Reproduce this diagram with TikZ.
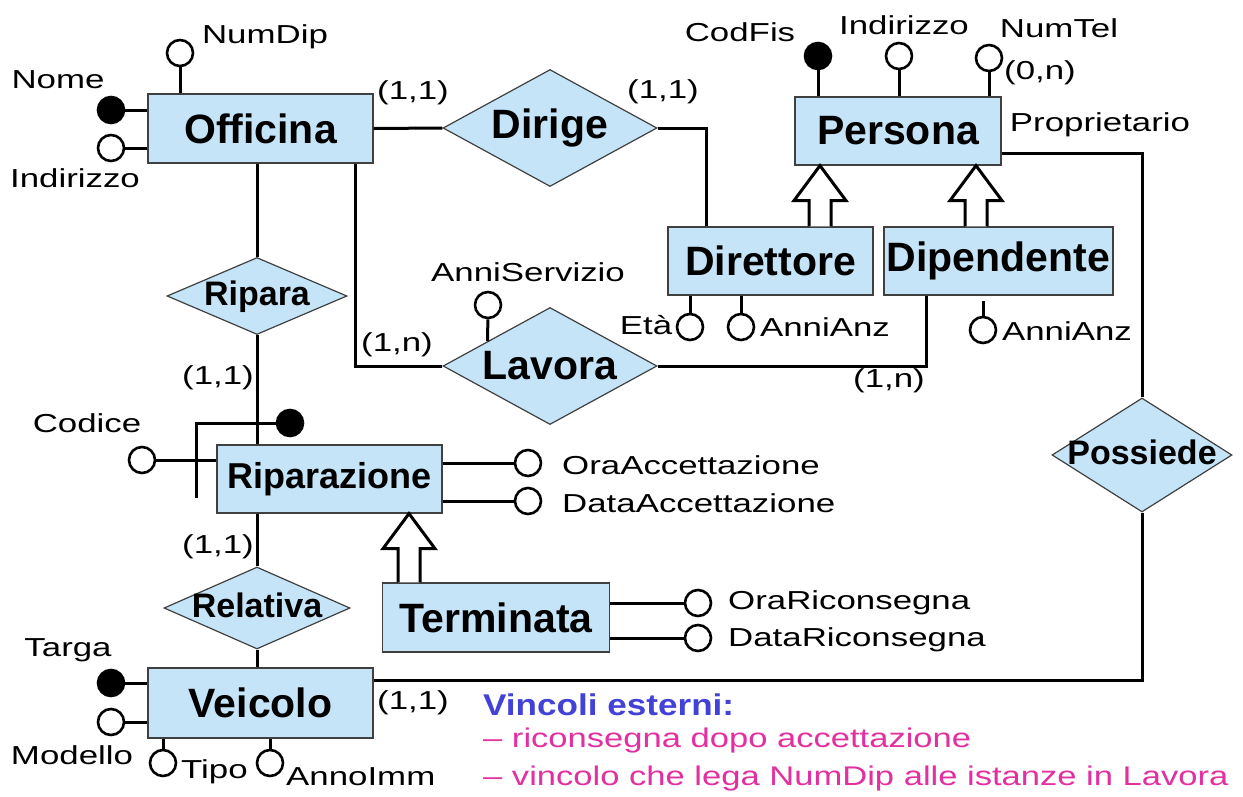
\documentclass[tikz,border=0pt]{standalone}
\usepackage{fontspec}
\setmainfont{Liberation Sans}
\newfontfamily\widefont[FakeStretch=1.34]{Liberation Sans}
\newfontfamily\vincfont[FakeStretch=1.28]{Liberation Sans}
\newfontfamily\midfont[FakeStretch=1.17]{Liberation Sans}
\usetikzlibrary{shapes.geometric, calc}
\definecolor{erblue}{RGB}{198,228,248}
\definecolor{vincblue}{RGB}{66,66,214}
\definecolor{vincpink}{RGB}{226,48,160}
\tikzset{
  entity/.style={rectangle, draw=black!75, line width=1.2pt, fill=erblue, inner sep=0pt,
    font=\fontsize{41}{46}\selectfont\bfseries},
  relation/.style={diamond, draw=black!75, line width=1.2pt, fill=erblue, inner sep=0pt,
    font=\fontsize{41}{46}\selectfont\bfseries},
  smallrel/.style={relation, inner xsep=-12pt, text height=22pt, text depth=3pt,
    font=\fontsize{34}{38}\selectfont\bfseries},
  attr/.style={circle, draw=black, line width=2.6pt, fill=white, minimum size=26pt, inner sep=0pt},
  keyattr/.style={attr, fill=black},
  conn/.style={draw=black, line width=3pt},
  isa/.style={draw=black, line width=3pt, fill=white, line join=miter},
  lbl/.style={inner sep=0pt, font=\widefont\fontsize{26}{30}\selectfont},
  vinc/.style={lbl, anchor=west, text=vincpink, font=\vincfont\fontsize{27}{32}\selectfont},
}
% hollow generalisation arrow: #1 = tip coordinate, #2 = child entity
\newcommand{\isarrow}[2]{%
  \draw[isa] ($(#1 |- #2.north)+(-11,0)$) -- ($(#1)+(-11,35)$) -- ($(#1)+(-26,35)$) -- (#1)
    -- ($(#1)+(26,35)$) -- ($(#1)+(11,35)$) -- ($(#1 |- #2.north)+(11,0)$);}

\begin{document}
\begin{tikzpicture}[x=1pt, y=-1pt]
  \useasboundingbox (0,0) rectangle (1243,796);

  % entities
  \node[entity, minimum width=225pt, minimum height=69pt] (officina) at (260.5,128.5) {Officina};
  \node[entity, minimum width=206pt, minimum height=68pt] (persona) at (898,131) {Persona};
  \node[entity, minimum width=205pt, minimum height=68pt] (direttore) at (770.5,261) {Direttore};
  \node[entity, minimum width=229pt, minimum height=68pt] (dipendente) at (998.5,261) {Dipendente};
  \node[entity, minimum width=225pt, minimum height=68pt, font=\fontsize{36}{40}\selectfont\bfseries]
    (riparazione) at (329.5,479) {Riparazione};
  \node[entity, minimum width=227pt, minimum height=69pt] (terminata) at (496,617.5) {Terminata};
  \node[entity, minimum width=225pt, minimum height=70pt] (veicolo) at (260.5,703) {Veicolo};

  % relationships
  \node[relation, minimum width=214pt, minimum height=117pt, aspect=1.83] (dirige) at (550,128) {Dirige};
  \node[relation, minimum width=214pt, minimum height=117pt, aspect=1.83] (lavora) at (550,366) {Lavora};
  \node[smallrel, minimum width=180pt, minimum height=77pt, aspect=2.34] (ripara) at (257,296) {Ripara};
  \node[smallrel, minimum width=186pt, minimum height=82pt, aspect=2.27] (relativa) at (257,608) {Relativa};
  \node[smallrel, minimum width=180pt, minimum height=114pt, aspect=1.58] (possiede) at (1142,455) {Possiede};

  % relationship links
  \draw[conn] (officina.east) -- (dirige.west);
  \draw[conn] (dirige.east) -| ([xshift=39pt]direttore.north west);
  \draw[conn] (ripara.north |- officina.south) -- (ripara.north);
  \draw[conn] (ripara.south) -- (ripara.south |- riparazione.north);
  \draw[conn] (lavora.west) -| ([xshift=94.5pt]officina.south);
  \draw[conn] (lavora.east) -| ([xshift=-72pt]dipendente.south);
  \draw[conn] (relativa.north |- riparazione.south) -- (relativa.north);
  \draw[conn] (relativa.south) -- (relativa.south |- veicolo.north);
  \draw[conn] ([yshift=-22pt]persona.east) -| (possiede.north);
  \draw[conn] (possiede.south) |- ([yshift=23pt]veicolo.east);

  % generalisations
  \coordinate (tipdir) at ([xshift=-78pt]persona.south);
  \coordinate (tipdip) at ([xshift=78pt]persona.south);
  \coordinate (tipter) at ([xshift=79.5pt]riparazione.south);
  \isarrow{tipdir}{direttore}
  \isarrow{tipdip}{dipendente}
  \isarrow{tipter}{terminata}

  % attributes
  \node[keyattr] (nome) at (111,110) {};
  \node[attr] (oindir) at (111,148) {};
  \node[attr] (numdip) at (180,53) {};
  \node[keyattr] (codfis) at (818,56) {};
  \node[attr] (pindir) at (899,56) {};
  \node[attr] (numtel) at (989,58) {};
  \node[attr] (eta) at (690,327) {};
  \node[attr] (anzdir) at (741,327) {};
  \node[attr] (anzdip) at (983,330) {};
  \node[attr] (anniserv) at (488,305) {};
  \node[attr] (codice) at (142,460) {};
  \node[keyattr] (ident) at (290,423) {};
  \node[attr] (oraacc) at (528,463) {};
  \node[attr] (dataacc) at (528,501) {};
  \node[attr] (oraric) at (698,603) {};
  \node[attr] (dataric) at (698,638) {};
  \node[keyattr] (targa) at (111,683) {};
  \node[attr] (modello) at (111,722) {};
  \node[attr] (tipo) at (163,763) {};
  \node[attr] (annoimm) at (270,763) {};

  \draw[conn] (nome) -- (nome -| officina.west);
  \draw[conn] (oindir) -- (oindir -| officina.west);
  \draw[conn] (numdip) -- (numdip |- officina.north);
  \draw[conn] (codfis) -- (codfis |- persona.north);
  \draw[conn] (pindir) -- (pindir |- persona.north);
  \draw[conn] (numtel) -- (numtel |- persona.north);
  \draw[conn] (eta) -- (eta |- direttore.south);
  \draw[conn] (anzdir) -- (anzdir |- direttore.south);
  \draw[conn] (anzdip) -- ([yshift=-5pt]anzdip |- dipendente.south);
  \draw[conn] (anniserv) -- ($(lavora.west)!0.42!(lavora.north)$);
  \draw[conn] (codice) -- (codice -| riparazione.west);
  \draw[conn] (ident) -| ([xshift=-20pt,yshift=-19pt]riparazione.west);
  \draw[conn] (oraacc) -- (oraacc -| riparazione.east);
  \draw[conn] (dataacc) -- (dataacc -| riparazione.east);
  \draw[conn] (oraric) -- (oraric -| terminata.east);
  \draw[conn] (dataric) -- (dataric -| terminata.east);
  \draw[conn] (targa) -- (targa -| veicolo.west);
  \draw[conn] (modello) -- (modello -| veicolo.west);
  \draw[conn] (tipo) -- (tipo |- veicolo.south);
  \draw[conn] (annoimm) -- (annoimm |- veicolo.south);

  % attribute names
  \node[lbl] (nomeT) at (58,80) {Nome};
  \node[lbl] (oindirT) at (75,178) {Indirizzo};
  \node[lbl] (numdipT) at (265,37) {NumDip};
  \node[lbl] (codfisT) at (740,32) {CodFis};
  \node[lbl] (pindirT) at (904,25) {Indirizzo};
  \node[lbl] (numtelT) at (1059,28) {NumTel};
  \node[lbl] (etaT) at (646,325) {Età};
  \node[lbl] (anzdirT) at (825,327) {AnniAnz};
  \node[lbl] (anzdipT) at (1067,331) {AnniAnz};
  \node[lbl] (anniservT) at (528,272) {AnniServizio};
  \node[lbl] (codiceT) at (87,423) {Codice};
  \node[lbl, anchor=west] (oraaccT) at (562,465) {OraAccettazione};
  \node[lbl, anchor=west] (dataaccT) at (562,503) {DataAccettazione};
  \node[lbl, anchor=west] (oraricT) at (728,603) {OraRiconsegna};
  \node[lbl, anchor=west] (dataricT) at (728,640) {DataRiconsegna};
  \node[lbl] (targaT) at (68,650) {Targa};
  \node[lbl] (modelloT) at (72,755) {Modello};
  \node[lbl, anchor=west] (tipoT) at (181,772) {Tipo};
  \node[lbl, anchor=west] (annoimmT) at (286,777) {AnnoImm};
  \node[lbl] (propT) at (1100,125) {Proprietario};

  % cardinalities
  \node[lbl] (c1) at (413,93) {(1,1)};
  \node[lbl] (c2) at (663,92) {(1,1)};
  \node[lbl] (c3) at (1040,73) {(0,n)};
  \node[lbl] (c4) at (397,345) {(1,n)};
  \node[lbl] (c5) at (889,381) {(1,n)};
  \node[lbl] (c6) at (218,378) {(1,1)};
  \node[lbl] (c7) at (218,547) {(1,1)};
  \node[lbl] (c8) at (413,703) {(1,1)};

  % external constraints
  \node[vinc, text=vincblue, font=\midfont\fontsize{30}{34}\selectfont\bfseries] (vinc0) at (483,705) {Vincoli esterni:};
  \node[vinc] (vinc1) at (483,741) {– riconsegna dopo accettazione};
  \node[vinc] (vinc2) at (483,779) {– vincolo che lega NumDip alle istanze in Lavora};
\end{tikzpicture}
\end{document}
